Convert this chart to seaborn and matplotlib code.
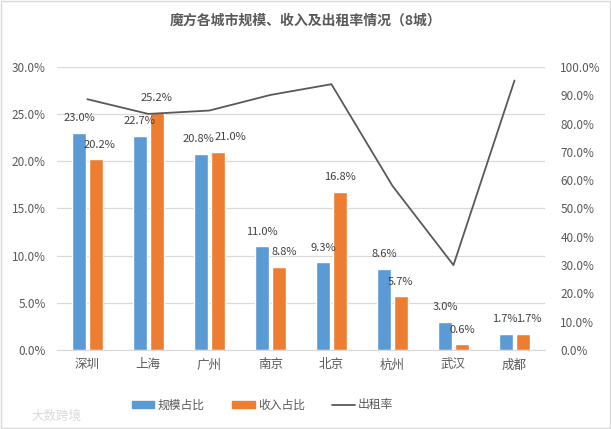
import numpy as np
import pandas as pd
import matplotlib
matplotlib.use("Agg")
import matplotlib.pyplot as plt
import seaborn as sns
from matplotlib.patches import Patch, Rectangle
from matplotlib.lines import Line2D
from matplotlib.ticker import FuncFormatter, MultipleLocator

# data
cities = ["深圳", "上海", "广州", "南京", "北京", "杭州", "武汉", "成都"]
scale_share = [23.0, 22.7, 20.8, 11.0, 9.3, 8.6, 3.0, 1.7]
income_share = [20.2, 25.2, 21.0, 8.8, 16.8, 5.7, 0.6, 1.7]
occupancy = [88.6, 83.4, 84.6, 90.1, 93.9, 58.0, 30.0, 95.2]
series_names = ["规模占比", "收入占比"]
line_name = "出租率"

blue = "#5B9BD5"
orange = "#ED7D31"
grey_line = "#595959"
txt = "#595959"

sns.set_style("white")
plt.rcParams["font.family"] = ["Noto Sans CJK SC", "DejaVu Sans"]

df = pd.DataFrame({
    "城市": cities * 2,
    "值": scale_share + income_share,
    "类别": [series_names[0]] * len(cities) + [series_names[1]] * len(cities),
})

fig = plt.figure(figsize=(6.11, 4.29), dpi=100)
ax = fig.add_axes([0.093, 0.184, 0.799, 0.660])

sns.barplot(data=df, x="城市", y="值", hue="类别", palette=[blue, orange],
            width=0.55, gap=0.15, ax=ax, legend=False, saturation=1)

# small sideways nudges (points) so neighbouring labels don't collide, like Excel
nudge = {(0, 2): -2, (1, 0): 3, (1, 2): 9, (1, 3): 4, (1, 7): 4, (0, 7): -1}
for si, cont in enumerate(ax.containers):
    for ci, bar in enumerate(cont):
        h = bar.get_height()
        ax.annotate(f"{h:.1f}%", (bar.get_x() + bar.get_width() / 2, h),
                    xytext=(nudge.get((si, ci), 0), 10.5),
                    textcoords="offset points", ha="center", va="center",
                    fontsize=8, color="#404040")

ax.set_ylim(0, 30)
ax.set_xlim(-0.5, 7.5)
ax.yaxis.set_major_locator(MultipleLocator(5))
ax.yaxis.set_major_formatter(FuncFormatter(lambda v, p: f"{v:.1f}%"))
ax.grid(axis="y", color="#D9D9D9", linewidth=0.9)
ax.set_axisbelow(True)
ax.set_xlabel("")
ax.set_ylabel("")
for s in ["top", "right", "left"]:
    ax.spines[s].set_visible(False)
ax.spines["bottom"].set_color("#D9D9D9")
ax.tick_params(axis="y", length=0, labelsize=8.5, colors=txt, pad=8)
ax.tick_params(axis="x", length=0, labelsize=9, colors=txt, pad=6)

ax2 = ax.twinx()
sns.lineplot(x=np.arange(len(cities)), y=occupancy, ax=ax2, color=grey_line,
             linewidth=1.3)
ax2.set_ylim(0, 100)
ax2.set_xlim(-0.5, 7.5)
ax2.yaxis.set_major_locator(MultipleLocator(10))
ax2.yaxis.set_major_formatter(FuncFormatter(lambda v, p: f"{v:.1f}%"))
for s in ["top", "right", "left", "bottom"]:
    ax2.spines[s].set_visible(False)
ax2.tick_params(axis="y", length=0, labelsize=8.5, colors=txt, pad=11)

fig.text(0.5, 0.953, "魔方各城市规模、收入及出租率情况（8城）", ha="center",
         va="center", fontsize=10, fontweight="bold", color=txt)

handles = [Patch(color=blue, label=series_names[0]),
           Patch(color=orange, label=series_names[1]),
           Line2D([0], [0], color=grey_line, linewidth=1.3, label=line_name)]
fig.legend(handles=handles, loc="center", bbox_to_anchor=(0.43, 0.056), ncol=3,
           frameon=False, fontsize=8.5, labelcolor=txt, handlelength=1.9,
           handleheight=0.6, columnspacing=2.3, handletextpad=0.3)

fig.text(0.052, 0.03, "大数跨境", ha="left", va="center", fontsize=9,
         color="#DADADA")
fig.patches.append(Rectangle((0.002, 0.002), 0.996, 0.996, transform=fig.transFigure,
                             fill=False, edgecolor="#D9D9D9", linewidth=1))

fig.savefig("out.png", dpi=100)
